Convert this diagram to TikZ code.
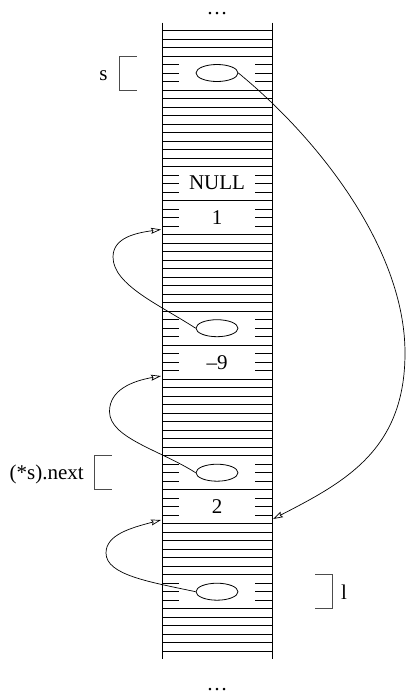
\documentclass[tikz,border=0pt]{standalone}
\usepackage{fontspec}
\setmainfont{Liberation Serif}
\usetikzlibrary{arrows.meta,shapes.geometric}

\tikzset{
  cell/.style={line width=0.6pt},
  sep/.style={line width=1.1pt},
  ptr/.style={draw, ellipse, line width=0.8pt, minimum width=42pt, minimum height=17pt, inner sep=0pt},
  val/.style={font=\fontsize{21}{23}\selectfont, inner sep=0pt},
  lbl/.style={font=\fontsize{21}{23}\selectfont, inner sep=0pt},
  brk/.style={line width=0.6pt, black!70},
  link/.style={line width=0.7pt, -{Stealth[open, length=10pt, width=6pt, inset=1.5pt]}}
}

\begin{document}
\begin{tikzpicture}[x=1pt, y=-1pt]
\useasboundingbox (0,0) rectangle (417,694);
% Memory column
\draw[cell] (162,22.7) -- (162,659.3);
\draw[cell] (272,22.7) -- (272,659.3);
\foreach \a/\b in {1/4, 8/17, 21/21, 25/34, 38/38, 42/51, 55/55, 59/65, 69/74}
  \foreach \k in {\a,...,\b}
    \draw[cell] (162,22.2+8.5*\k) -- (272,22.2+8.5*\k);
% Short marks inside the cells
\foreach \k in {5,6,7,18,19,20,22,23,24,35,36,37,39,40,41,52,53,54,56,57,58,66,67,68} {
  \draw[cell] (162,22.2+8.5*\k) -- (179,22.2+8.5*\k);
  \draw[cell] (255,22.2+8.5*\k) -- (272,22.2+8.5*\k);
}
% Cell borders
\foreach \k in {4,8,21,38,55,65}
  \draw[sep] (162,22.2+8.5*\k) -- (272,22.2+8.5*\k);
% Contents
\node[lbl, anchor=base] (dtop) at (217,14.5) {\dots};
\node[lbl, anchor=base] (dbot) at (217,690.5) {\dots};
\node[ptr] (ps) at (217,73) {};
\node[val] (null) at (217,183.2) {NULL};
\node[val] (one) at (217,217.7) {1};
\node[ptr] (pa) at (217,328.2) {};
\node[val] (mnine) at (217,362.2) {--9};
\node[ptr] (pb) at (217,472.7) {};
\node[val] (two) at (217,506.7) {2};
\node[ptr] (pc) at (217,591.7) {};
% Arrow ends
\coordinate (to1) at (161,229.5);
\coordinate (to9) at (161,376);
\coordinate (to2l) at (161,520);
\coordinate (to2r) at (273,519);
% Variable names
\node[lbl, anchor=base] (vs) at (103.5,80.5) {s};
\draw[brk] (136.7,56.2) -- (119.3,56.2) -- (119.3,90.2) -- (136.7,90.2);
\node[lbl, anchor=base east] (vnext) at (84,479.5) {(*s).next};
\draw[brk] (111.7,455.7) -- (94.3,455.7) -- (94.3,489.7) -- (111.7,489.7);
\node[lbl, anchor=base] (vl) at (344,599.5) {l};
\draw[brk] (315,574.7) -- (332.3,574.7) -- (332.3,608.7) -- (315,608.7);
% Links
\draw[link] (ps.east) .. controls (320,140) and (405,250) .. (405,353)
  .. controls (405,450) and (345,482) .. (to2r);
\draw[link] (pa.west) .. controls (160,305) and (113,285) .. (113,257)
  .. controls (113,238) and (135,233) .. (to1);
\draw[link] (pb.west) .. controls (160,450) and (109.5,438) .. (109.5,411.5)
  .. controls (109.5,390) and (132,381) .. (to9);
\draw[link] (pc.west) .. controls (150,582) and (106,575) .. (106,553)
  .. controls (106,535) and (130,528) .. (to2l);
\end{tikzpicture}
\end{document}
